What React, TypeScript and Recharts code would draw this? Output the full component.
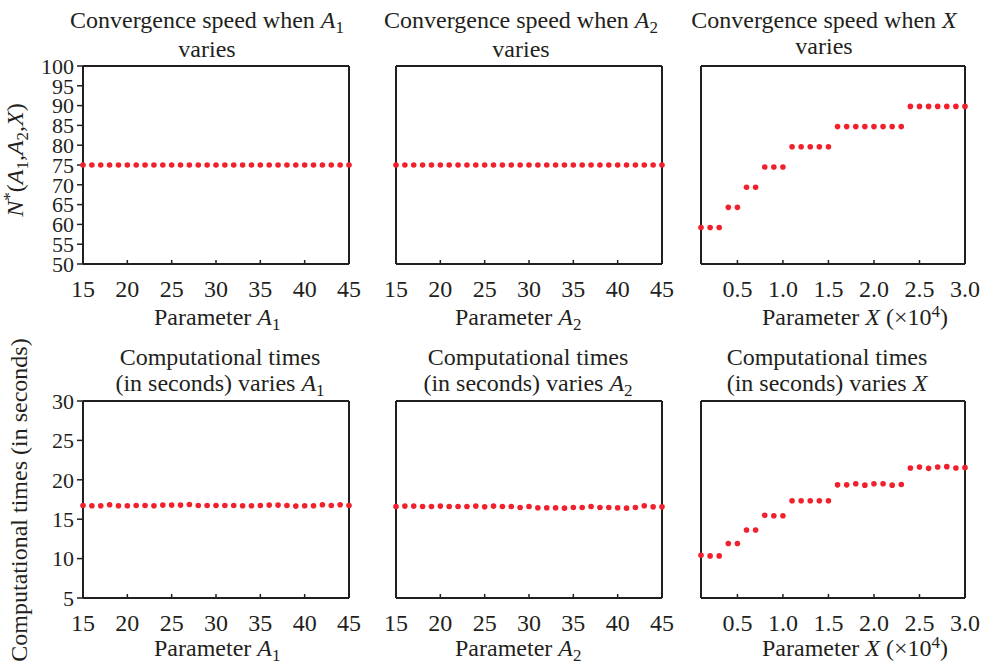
import React from "react";
import { ReferenceLine, Scatter, ScatterChart, XAxis, YAxis } from "recharts";

const INK = "#231f20";
const RED = "#f0202c";
const FONT = '"Liberation Serif", "Times New Roman", serif';

// x values
const paramA = [15, 16, 17, 18, 19, 20, 21, 22, 23, 24, 25, 26, 27, 28, 29, 30, 31, 32, 33, 34, 35, 36, 37, 38, 39, 40, 41, 42, 43, 44, 45];
const paramX = [0.1, 0.2, 0.3, 0.4, 0.5, 0.6, 0.7, 0.8, 0.9, 1.0, 1.1, 1.2, 1.3, 1.4, 1.5, 1.6, 1.7, 1.8, 1.9, 2.0, 2.1, 2.2, 2.3, 2.4, 2.5, 2.6, 2.7, 2.8, 2.9, 3.0];

// convergence speed N*
const convA1 = [75, 75, 75, 75, 75, 75, 75, 75, 75, 75, 75, 75, 75, 75, 75, 75, 75, 75, 75, 75, 75, 75, 75, 75, 75, 75, 75, 75, 75, 75, 75];
const convA2 = [75, 75, 75, 75, 75, 75, 75, 75, 75, 75, 75, 75, 75, 75, 75, 75, 75, 75, 75, 75, 75, 75, 75, 75, 75, 75, 75, 75, 75, 75, 75];
const convX = [59.2, 59.2, 59.2, 64.3, 64.3, 69.4, 69.4, 74.5, 74.5, 74.5, 79.6, 79.6, 79.6, 79.6, 79.6, 84.7, 84.7, 84.7, 84.7, 84.7, 84.7, 84.7, 84.7, 89.8, 89.8, 89.8, 89.8, 89.8, 89.8, 89.8];

// computational times (s)
const timeA1 = [16.74, 16.7, 16.7, 16.83, 16.7, 16.7, 16.74, 16.74, 16.7, 16.79, 16.79, 16.79, 16.87, 16.74, 16.74, 16.74, 16.74, 16.74, 16.7, 16.7, 16.74, 16.79, 16.79, 16.74, 16.66, 16.7, 16.7, 16.83, 16.74, 16.83, 16.74];
const timeA2 = [16.62, 16.66, 16.66, 16.62, 16.62, 16.66, 16.62, 16.62, 16.62, 16.66, 16.57, 16.66, 16.62, 16.62, 16.49, 16.62, 16.45, 16.45, 16.45, 16.4, 16.49, 16.49, 16.62, 16.49, 16.49, 16.45, 16.4, 16.49, 16.7, 16.57, 16.57];
const timeX = [10.43, 10.34, 10.34, 11.92, 11.92, 13.63, 13.63, 15.51, 15.43, 15.43, 17.35, 17.35, 17.35, 17.35, 17.35, 19.36, 19.36, 19.49, 19.32, 19.49, 19.49, 19.32, 19.4, 21.5, 21.62, 21.45, 21.62, 21.67, 21.5, 21.54];

const ticksA = [15, 20, 25, 30, 35, 40, 45];
const ticksX = [0.5, 1.0, 1.5, 2.0, 2.5, 3.0];
const ticksConv = [50, 55, 60, 65, 70, 75, 80, 85, 90, 95, 100];
const ticksTime = [5, 10, 15, 20, 25, 30];

const Y_W = 83;
const PAD_T = 20;
const PAD_R = 20;
const X_H = 45;

const rows = (xs: number[], ys: number[]) => xs.map((x, i) => ({ x, y: ys[i] }));

const dot = (p: any) => <circle cx={p.cx} cy={p.cy} r={2.8} fill={RED} />;

function Panel({
  left,
  top,
  width,
  height,
  data,
  xDomain,
  xTicks,
  yDomain,
  yTicks,
  showY,
  decimals = 0,
}: {
  left: number;
  top: number;
  width: number;
  height: number;
  data: { x: number; y: number }[];
  xDomain: [number, number];
  xTicks: number[];
  yDomain: [number, number];
  yTicks: number[];
  showY: boolean;
  decimals?: number;
}) {
  const line = { stroke: INK, strokeWidth: 2 };
  return (
    <div style={{ position: "absolute", left: left - Y_W, top: top - PAD_T }}>
      <ScatterChart
        width={Y_W + width + PAD_R}
        height={PAD_T + height + X_H}
        margin={{ top: PAD_T, right: PAD_R, left: 0, bottom: 0 }}
      >
        <XAxis
          type="number"
          dataKey="x"
          domain={xDomain}
          ticks={xTicks}
          interval={0}
          height={X_H}
          tick={{ fontSize: 24, fill: INK }}
          tickFormatter={(v: number) => v.toFixed(decimals)}
          tickSize={-4}
          tickMargin={20}
          axisLine={line}
          tickLine={{ stroke: INK, strokeWidth: 1.5 }}
        />
        <YAxis
          type="number"
          dataKey="y"
          domain={yDomain}
          ticks={yTicks}
          interval={0}
          width={Y_W}
          tick={showY ? { fontSize: 22, fill: INK } : false}
          tickSize={6}
          tickMargin={3}
          axisLine={line}
          tickLine={{ stroke: INK, strokeWidth: 1.5 }}
        />
        <ReferenceLine y={yDomain[1]} stroke={INK} strokeWidth={1.8} />
        <ReferenceLine x={xDomain[1]} stroke={INK} strokeWidth={2} />
        <Scatter data={data} fill={RED} shape={dot} isAnimationActive={false} />
      </ScatterChart>
    </div>
  );
}

const sub = (t: string) => (
  <span style={{ fontSize: 17, position: "relative", top: 5 }}>{t}</span>
);
const sup = (t: string) => (
  <span style={{ fontSize: 17, position: "relative", top: -8 }}>{t}</span>
);

function Txt({ x, y, children, center = true }: { x: number; y: number; children: React.ReactNode; center?: boolean }) {
  return (
    <div
      style={{
        position: "absolute",
        left: x,
        top: y,
        transform: center ? "translateX(-50%)" : undefined,
        whiteSpace: "nowrap",
        lineHeight: "26.5px",
        fontSize: 24,
        textAlign: "center",
      }}
    >
      {children}
    </div>
  );
}

function VTxt({ x, y, children }: { x: number; y: number; children: React.ReactNode }) {
  return (
    <div
      style={{
        position: "absolute",
        left: x,
        top: y,
        transform: "translate(-50%, -50%) rotate(-90deg)",
        whiteSpace: "nowrap",
        lineHeight: "26.5px",
        fontSize: 24,
      }}
    >
      {children}
    </div>
  );
}

export default function App() {
  const cols = [
    { left: 83, width: 266 },
    { left: 396, width: 266 },
    { left: 701, width: 264 },
  ];
  const topRow = { top: 66, height: 198 };
  const botRow = { top: 401, height: 197 };
  return (
    <div
      style={{
        position: "absolute",
        left: 0,
        top: 0,
        width: 983,
        height: 665,
        overflow: "hidden",
        background: "#fff",
        fontFamily: FONT,
        color: INK,
      }}
    >
      <Panel {...cols[0]} {...topRow} data={rows(paramA, convA1)} xDomain={[15, 45]} xTicks={ticksA} yDomain={[50, 100]} yTicks={ticksConv} showY />
      <Panel {...cols[1]} {...topRow} data={rows(paramA, convA2)} xDomain={[15, 45]} xTicks={ticksA} yDomain={[50, 100]} yTicks={ticksConv} showY={false} />
      <Panel {...cols[2]} {...topRow} data={rows(paramX, convX)} xDomain={[0.1, 3]} xTicks={ticksX} yDomain={[50, 100]} yTicks={ticksConv} showY={false} decimals={1} />
      <Panel {...cols[0]} {...botRow} data={rows(paramA, timeA1)} xDomain={[15, 45]} xTicks={ticksA} yDomain={[5, 30]} yTicks={ticksTime} showY />
      <Panel {...cols[1]} {...botRow} data={rows(paramA, timeA2)} xDomain={[15, 45]} xTicks={ticksA} yDomain={[5, 30]} yTicks={ticksTime} showY={false} />
      <Panel {...cols[2]} {...botRow} data={rows(paramX, timeX)} xDomain={[0.1, 3]} xTicks={ticksX} yDomain={[5, 30]} yTicks={ticksTime} showY={false} decimals={1} />

      {/* titles, top row */}
      <Txt x={207} y={6.6}>
        Convergence speed when <i>A</i>{sub("1")}
        <br />varies
      </Txt>
      <Txt x={521} y={6.6}>
        Convergence speed when <i>A</i>{sub("2")}
        <br />varies
      </Txt>
      <Txt x={824} y={6.6}>
        Convergence speed when <i>X</i>
        <br />varies
      </Txt>

      {/* titles, bottom row */}
      <Txt x={220} y={343.6}>
        Computational times
        <br />(in seconds) varies <i>A</i>{sub("1")}
      </Txt>
      <Txt x={528} y={343.6}>
        Computational times
        <br />(in seconds) varies <i>A</i>{sub("2")}
      </Txt>
      <Txt x={827} y={343.6}>
        Computational times
        <br />(in seconds) varies <i>X</i>
      </Txt>

      {/* x-axis titles */}
      {[303.6, 635].map((y) => (
        <React.Fragment key={y}>
          <Txt x={154} y={y} center={false}>
            Parameter <i>A</i>{sub("1")}
          </Txt>
          <Txt x={455} y={y} center={false}>
            Parameter <i>A</i>{sub("2")}
          </Txt>
          <Txt x={762} y={y} center={false}>
            Parameter <i>X</i> (×10{sup("4")})
          </Txt>
        </React.Fragment>
      ))}

      {/* y-axis titles */}
      <VTxt x={17} y={160}>
        <i>N</i>{sup("*")}(<i>A</i>{sub("1")},<i>A</i>{sub("2")},<i>X</i>)
      </VTxt>
      <VTxt x={19} y={500}>
        Computational times (in seconds)
      </VTxt>
    </div>
  );
}
